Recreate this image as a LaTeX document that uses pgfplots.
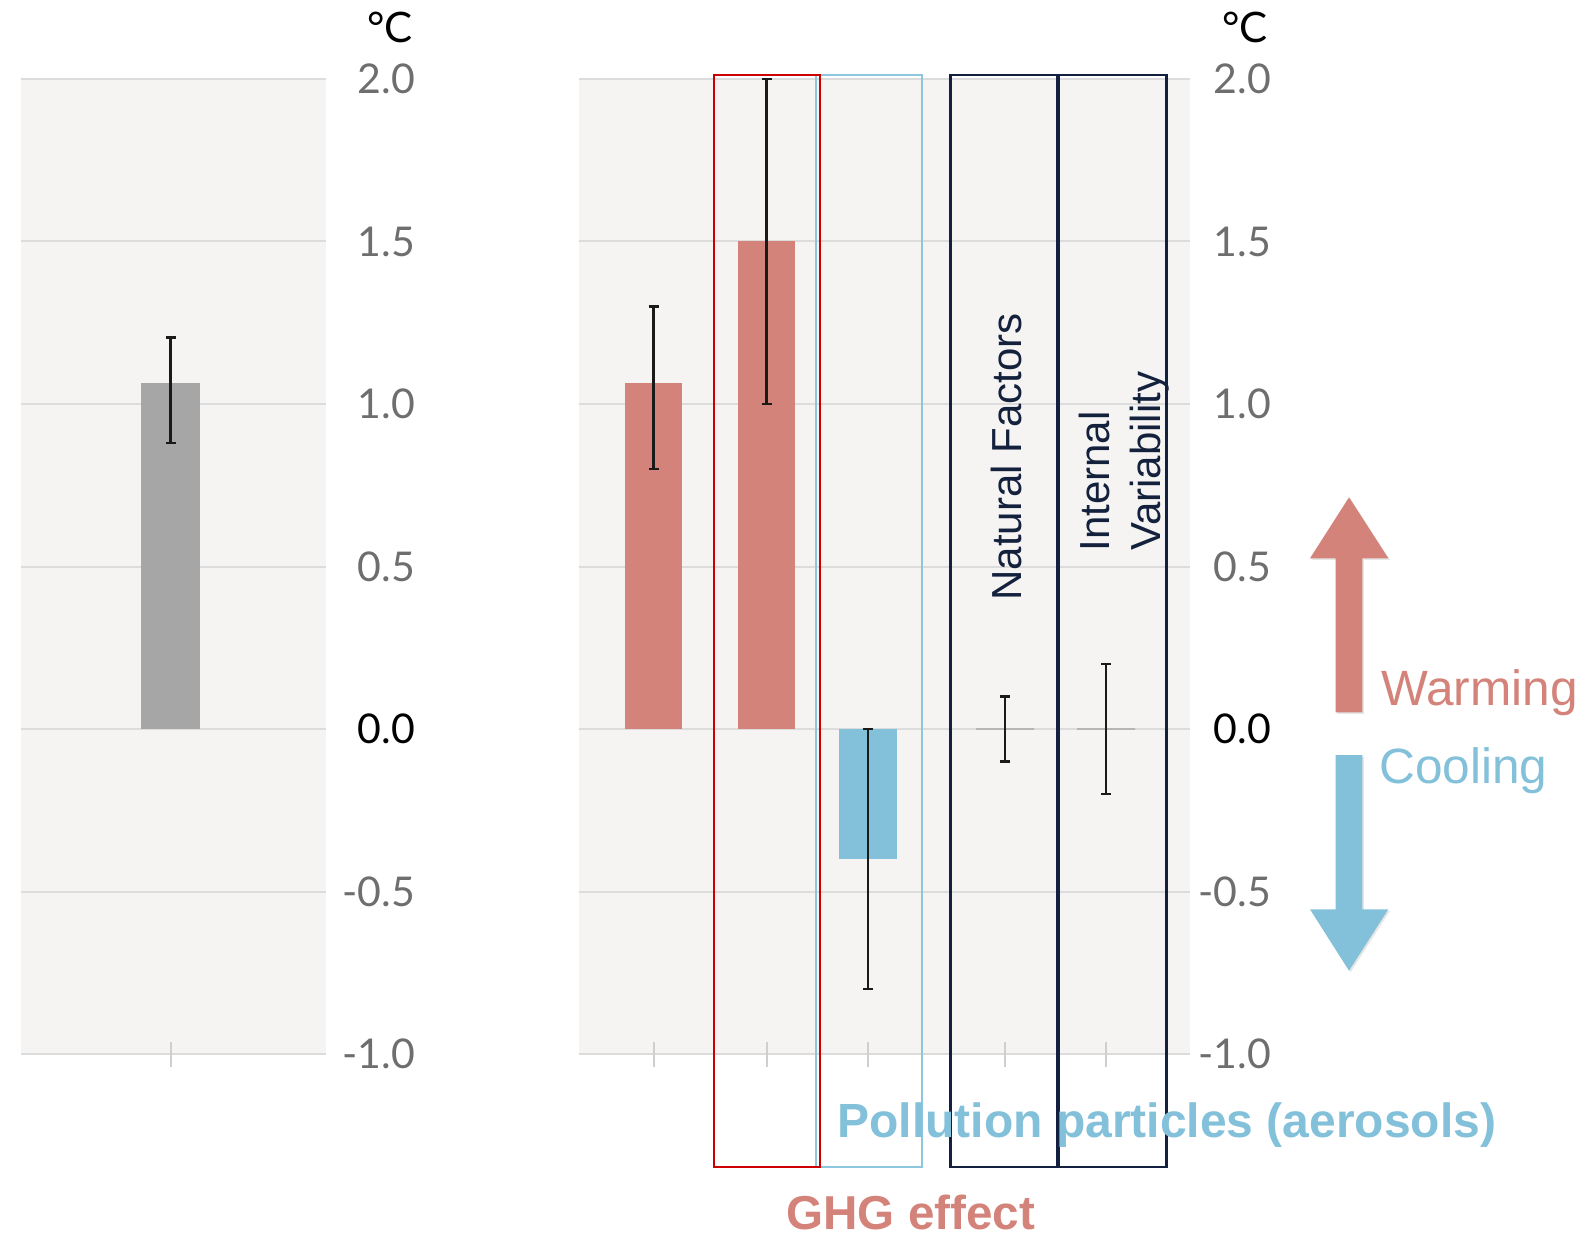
\documentclass[border=0pt]{standalone}
\usepackage{pgfplots}
\pgfplotsset{compat=1.18}
\usepackage{fontspec}
\setmainfont{Liberation Sans}
\newfontfamily\lato{Lato}
\usetikzlibrary{shadows}
\definecolor{bgc}{HTML}{F5F4F2}
\definecolor{gridc}{HTML}{DCDCDC}
\definecolor{tickc}{HTML}{6E6E6E}
\definecolor{xtickc}{HTML}{CFCFCF}
\definecolor{zeroc}{HTML}{B5B5B5}
\definecolor{barGray}{HTML}{A6A6A6}
\definecolor{salmon}{HTML}{D4837A}
\definecolor{lblue}{HTML}{83C0DA}
\definecolor{redbox}{HTML}{CC0000}
\definecolor{boxblue}{HTML}{8EC6DE}
\definecolor{navy}{HTML}{13203F}
\definecolor{navytext}{HTML}{14213D}
\definecolor{errc}{HTML}{1A1A1A}
\begin{document}
\begin{tikzpicture}[x=0.5pt,y=0.5pt]
\path[use as bounding box] (0,0) rectangle (1588,1239);
\pgfplotsset{
 panel/.style={
  scale only axis, anchor=south west, height=487.5pt,
  ymin=-1, ymax=2, enlargelimits=false, clip=false,
  axis background/.style={fill=bgc},
  axis line style={draw=none},
  ymajorgrids, grid style={draw=gridc, line width=1pt},
  ytick={-1,-0.5,0,0.5,1,1.5,2},
  yticklabels={-1.0,-0.5,{\color{black}0.0},0.5,1.0,1.5,2.0},
  yticklabel pos=right,
  ytick style={draw=none},
  yticklabel style={font=\lato\fontsize{20.5}{21}\selectfont, text=tickc, anchor=east, inner sep=0pt},
  xticklabels={},
  xtick pos=bottom,
  xtick style={draw=xtickc, line width=1pt},
  tick align=center, major tick length=12.5pt,
 },
 eb/.style={error bars/.cd, y dir=both, y explicit,
  error bar style={line width=1.3pt, draw=errc},
  error mark options={rotate=90, line width=1.3pt, draw=errc, mark size=2.5pt}},
}
\begin{axis}[panel, at={(10.25pt,92.5pt)}, width=152.75pt,
  xmin=20.5, xmax=326, xtick={170.5},
  yticklabel style={xshift=38.5pt}]
\addplot[ybar, bar width=29.15pt, fill=barGray, draw=none, eb]
  coordinates {(170.5,1.065) += (0,0.14) -= (0,0.185)};
\end{axis}
\begin{axis}[panel, at={(289.5pt,92.5pt)}, width=305.5pt,
  xmin=579, xmax=1190, xtick={653.5,766.5,868,1005,1106},
  yticklabel style={xshift=34.5pt}]
\addplot[ybar, bar width=28.75pt, fill=salmon, draw=none, eb]
  coordinates {(653.5,1.065) += (0,0.235) -= (0,0.265)};
\addplot[ybar, bar width=28.75pt, fill=salmon, draw=none, eb]
  coordinates {(766.5,1.5) +- (0,0.5)};
\addplot[ybar, bar width=28.75pt, fill=lblue, draw=none, eb]
  coordinates {(868,-0.4) +- (0,0.4)};
\addplot[ybar, bar width=29pt, fill=none, draw=zeroc, line width=1.1pt, eb]
  coordinates {(1005,0) +- (0,0.1) (1106,0) +- (0,0.2)};
\end{axis}
% boxes
\draw[boxblue, line width=1pt] (816,1164) rectangle (921.5,72);
\draw[redbox, line width=1pt] (714,1164) rectangle (820,72);
\draw[navy, line width=1.25pt] (950.5,1164) rectangle (1057.5,72);
\draw[navy, line width=1.25pt] (1059,1164) rectangle (1166.5,72);
% arrows
\fill[salmon, drop shadow={shadow xshift=0.8pt, shadow yshift=-0.8pt, opacity=0.2}]
 (1335.7,526.7) -- (1362.3,526.7) -- (1362.3,680.7) -- (1388.3,680.7) -- (1349,741.7) -- (1310,680.7) -- (1335.7,680.7) -- cycle;
\fill[lblue, drop shadow={shadow xshift=0.8pt, shadow yshift=-0.8pt, opacity=0.2}]
 (1335.7,484) -- (1362.3,484) -- (1362.3,329.7) -- (1388.3,329.7) -- (1349,268.3) -- (1310,329.7) -- (1335.7,329.7) -- cycle;
% texts
\node[anchor=base west, inner sep=0pt, text=salmon, font=\fontsize{24.8}{28}\selectfont] at (1381,534) {Warming};
\node[anchor=base west, inner sep=0pt, text=lblue, font=\fontsize{24.8}{28}\selectfont] at (1379,455.5) {Cooling};
\node[rotate=90, anchor=base west, inner sep=0pt, text=navytext, font=\fontsize{21}{24}\selectfont] at (1021.7,638) {Natural Factors};
\node[rotate=90, anchor=base west, inner sep=0pt, text=navytext, font=\fontsize{21}{24}\selectfont] at (1109,687) {Internal};
\node[rotate=90, anchor=base west, inner sep=0pt, text=navytext, font=\fontsize{21}{24}\selectfont] at (1160,688) {Variability};
\node[anchor=base west, inner sep=0pt, text=lblue, font=\bfseries\fontsize{24}{28}\selectfont] at (837,102) {Pollution particles (aerosols)};
\node[anchor=base west, inner sep=0pt, text=salmon, font=\bfseries\fontsize{23.8}{28}\selectfont] at (786,10) {GHG effect};
\node[anchor=base east, inner sep=0pt, font=\lato\fontsize{21}{22}\selectfont] at (413,1196) {°C};
\node[anchor=base east, inner sep=0pt, font=\lato\fontsize{21}{22}\selectfont] at (1268,1196) {°C};
\end{tikzpicture}
\end{document}
